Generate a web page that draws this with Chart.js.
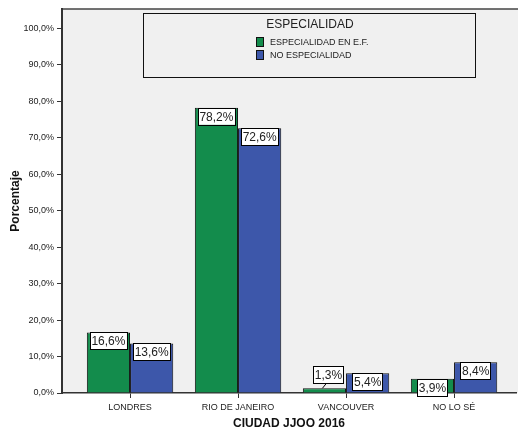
<!DOCTYPE html>
<html>
<head>
<meta charset="utf-8">
<script src="https://cdn.jsdelivr.net/npm/chart.js@4.4.0/dist/chart.umd.min.js"></script>
<style>
  html, body { margin: 0; padding: 0; background: #fff; }
</style>
</head>
<body>
<canvas id="myChart" width="518" height="435"></canvas>

<script>
const cities = ['LONDRES', 'RIO DE JANEIRO', 'VANCOUVER', 'NO LO SÉ'];
const especialidadEF = [16.6, 78.2, 1.3, 3.9];
const noEspecialidad = [13.6, 72.6, 5.4, 8.4];
const seriesNames = ['ESPECIALIDAD EN E.F.', 'NO ESPECIALIDAD'];
const legendTitle = 'ESPECIALIDAD';
const yTicks = [0, 10, 20, 30, 40, 50, 60, 70, 80, 90, 100];

const FONT = 'Arial, "Liberation Sans", sans-serif';
const GREEN = '#138c4c';
const BLUE = '#3d57aa';

function pct(v) {
  return v.toFixed(1).replace('.', ',') + '%';
}

// grey plot panel + top frame line
const panelBg = {
  id: 'panelBg',
  beforeDraw(chart) {
    const {ctx, chartArea: a, width} = chart;
    ctx.save();
    ctx.fillStyle = '#fff';
    ctx.fillRect(0, 0, width, chart.height);
    ctx.fillStyle = '#f0f0f0';
    ctx.fillRect(a.left, a.top, width - a.left, a.bottom - a.top);
    ctx.strokeStyle = '#444';
    ctx.lineWidth = 1.5;
    ctx.beginPath();
    ctx.moveTo(a.left, a.top);
    ctx.lineTo(width, a.top);
    ctx.stroke();
    ctx.restore();
  }
};

// boxed value labels on the bars
const valueBoxes = {
  id: 'valueBoxes',
  afterDatasetsDraw(chart) {
    const ctx = chart.ctx;
    ctx.save();
    ctx.font = '12px ' + FONT;
    ctx.textAlign = 'center';
    ctx.textBaseline = 'middle';
    chart.data.datasets.forEach((ds, di) => {
      chart.getDatasetMeta(di).data.forEach((bar, i) => {
        const txt = pct(ds.data[i]);
        const w = ctx.measureText(txt).width + 3;
        const h = 17;
        let top = bar.y;
        let cx = bar.x;
        const small = (bar.base - bar.y) < 8;
        if (small) {
          top = bar.y - h - 5;
          cx = bar.x + 4;
          ctx.strokeStyle = '#000';
          ctx.lineWidth = 1;
          ctx.beginPath();
          ctx.moveTo(cx - 2, top + h);
          ctx.lineTo(bar.x - 2, bar.y);
          ctx.stroke();
        }
        ctx.fillStyle = '#fff';
        ctx.fillRect(cx - w / 2, top, w, h);
        ctx.strokeStyle = '#000';
        ctx.lineWidth = 1;
        ctx.strokeRect(Math.round(cx - w / 2) + 0.5, Math.round(top) + 0.5, Math.round(w), h);
        ctx.fillStyle = '#222';
        ctx.fillText(txt, cx, top + h / 2 + 1);
      });
    });
    ctx.restore();
  }
};

// framed legend inside the plot
const boxLegend = {
  id: 'boxLegend',
  afterDraw(chart) {
    const ctx = chart.ctx;
    ctx.save();
    ctx.strokeStyle = '#111';
    ctx.lineWidth = 1;
    ctx.strokeRect(143.5, 13.5, 332, 64);
    ctx.fillStyle = '#222';
    ctx.font = '12px ' + FONT;
    ctx.textAlign = 'center';
    ctx.textBaseline = 'middle';
    ctx.fillText(legendTitle, 310, 25);
    ctx.font = '9px ' + FONT;
    ctx.textAlign = 'left';
    chart.data.datasets.forEach((ds, i) => {
      const y = 37 + i * 13;
      ctx.fillStyle = ds.backgroundColor;
      ctx.fillRect(256, y, 8, 10);
      ctx.strokeStyle = '#111';
      ctx.strokeRect(256.5, y + 0.5, 7, 9);
      ctx.fillStyle = '#222';
      ctx.fillText(ds.label, 270, y + 5.5);
    });
    ctx.restore();
  }
};

const data = {
  labels: cities,
  datasets: [
    {
      label: seriesNames[0],
      data: especialidadEF,
      backgroundColor: GREEN,
      borderColor: '#111',
      borderWidth: 1,
      categoryPercentage: 0.8,
      barPercentage: 1
    },
    {
      label: seriesNames[1],
      data: noEspecialidad,
      backgroundColor: BLUE,
      borderColor: '#111',
      borderWidth: 1,
      categoryPercentage: 0.8,
      barPercentage: 1
    }
  ]
};

const config = {
  type: 'bar',
  data: data,
  options: {
    responsive: false,
    animation: false,
    layout: { padding: { top: 9, right: 2, bottom: 2, left: 0 } },
    plugins: {
      legend: { display: false },
      tooltip: { enabled: false }
    },
    scales: {
      x: {
        offset: true,
        grid: { display: true, drawOnChartArea: false, offset: false, tickLength: 5, tickColor: '#333' },
        border: { color: '#333', width: 1.5 },
        ticks: { color: '#222', font: { family: FONT, size: 9 }, padding: 4, maxRotation: 0 },
        title: {
          display: true,
          text: 'CIUDAD JJOO 2016',
          color: '#111',
          font: { family: FONT, size: 12, weight: 'bold' },
          padding: { top: 4, bottom: 2 }
        },
        afterFit(scale) { scale.height = 40; },
        afterBuildTicks(scale) {
          // extra room on the left like the original panel
          scale._startValue = -0.63;
          scale._valueRange = 4.2037;
        }
      },
      y: {
        min: 0,
        max: 105.3,
        grid: { display: true, drawOnChartArea: false, tickLength: 5, tickColor: '#333' },
        border: { color: '#333', width: 2 },
        ticks: {
          color: '#222',
          font: { family: FONT, size: 9 },
          padding: 3,
          callback: v => pct(v)
        },
        afterBuildTicks(scale) {
          scale.ticks = yTicks.map(v => ({ value: v }));
        },
        title: {
          display: true,
          text: 'Porcentaje',
          color: '#111',
          font: { family: FONT, size: 12, weight: 'bold' },
          padding: { top: 8, bottom: 0 }
        },
        afterFit(scale) { scale.width = 62; }
      }
    }
  },
  plugins: [panelBg, valueBoxes, boxLegend]
};

var myChart = new Chart(document.getElementById('myChart'), config);
</script>
</body>
</html>
